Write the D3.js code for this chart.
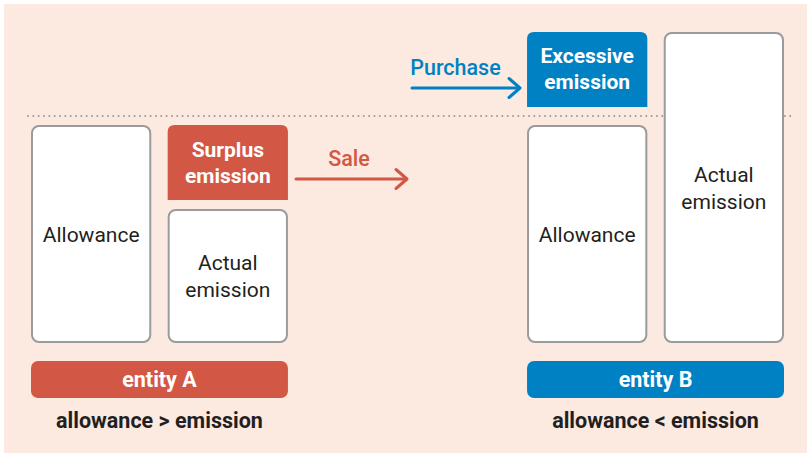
<!DOCTYPE html>
<html>
<head>
<meta charset="utf-8">
<script src="https://cdn.jsdelivr.net/npm/d3@7/dist/d3.min.js"></script>
<style>
  html, body { margin: 0; padding: 0; background: #ffffff; }
  svg { display: block; font-family: Roboto, "Noto Sans", sans-serif; }
</style>
</head>
<body>
<svg id="chart" width="807" height="453"></svg>
<script>
// ---- data ----
const entities = ["entity A", "entity B"];
const relations = ["allowance > emission", "allowance < emission"];
const allowance = [100, 100];
const actualEmission = [61, 141];
const tradeLabels = ["Sale", "Purchase"];
const diffLabels = [["Surplus", "emission"], ["Excessive", "emission"]];
const columnLabels = ["Allowance", ["Actual", "emission"]];

// ---- layout ----
const W = 807, H = 453;
const colors = { bg: "#fce9e0", red: "#d35745", blue: "#0081c4", grey: "#9b9b9d", text: "#231f20" };
const entityColor = [colors.red, colors.blue];

const svg = d3.select("#chart");
svg.append("rect").attr("x", 4).attr("y", 4).attr("width", W - 4).attr("height", H - 4).attr("fill", colors.bg);

const y = d3.scaleLinear().domain([0, 100]).range([343, 116]);
const groupX = d3.scaleBand().domain(entities).range([31, 784]).paddingInner(0.482);
// each group: two columns
const colX = d3.scaleBand().domain(["allow", "actual"]).range([0, groupX.bandwidth()]).paddingInner(0.12);

// dotted allowance line
svg.append("line")
  .attr("x1", 28).attr("x2", 791)
  .attr("y1", y(100)).attr("y2", y(100))
  .attr("stroke", colors.grey).attr("stroke-width", 2)
  .attr("stroke-dasharray", "0 5.33").attr("stroke-linecap", "round");

function outlinedBox(g, x0, w, top, bottom) {
  g.append("rect")
    .attr("x", x0 + 1).attr("y", top + 1)
    .attr("width", w - 2).attr("height", bottom - top - 2)
    .attr("rx", 7).attr("ry", 7)
    .attr("fill", "#ffffff").attr("stroke", colors.grey).attr("stroke-width", 2);
}
function topRoundedRect(x0, y0, w, h, r) {
  return `M${x0},${y0 + h}V${y0 + r}Q${x0},${y0} ${x0 + r},${y0}H${x0 + w - r}Q${x0 + w},${y0} ${x0 + w},${y0 + r}V${y0 + h}Z`;
}
function multiLine(g, cx, baselines, lines, opts) {
  const t = g.append("text").attr("text-anchor", "middle")
    .attr("font-size", opts.size).attr("font-weight", opts.weight).attr("fill", opts.fill);
  lines.forEach((l, i) => t.append("tspan").attr("x", cx).attr("y", baselines[i]).text(l));
}

const BOLD = 21.5;

entities.forEach((e, i) => {
  const g = svg.append("g");
  const gx = groupX(e);
  const bw = groupX.bandwidth();
  const ax = gx + colX("allow"), aw = colX.bandwidth();
  const ex = gx + colX("actual"), ew = colX.bandwidth();
  const base = y(0);

  // allowance column
  outlinedBox(g, ax, aw, y(allowance[i]) + 9, base);
  multiLine(g, ax + aw / 2, [242], [columnLabels[0]], { size: 21, weight: 400, fill: colors.text });

  const col = entityColor[i];
  if (actualEmission[i] < allowance[i]) {
    // surplus on top of actual emission
    const top = y(allowance[i]) + 9;
    const bnd = y(actualEmission[i]);
    g.append("path").attr("d", topRoundedRect(ex, top, ew, (bnd - 4.5) - top, 7)).attr("fill", col);
    outlinedBox(g, ex, ew, bnd + 4.5, base);
    multiLine(g, ex + ew / 2, [157, 183], diffLabels[i], { size: 21, weight: 700, fill: "#ffffff" });
    multiLine(g, ex + ew / 2, [270, 297], columnLabels[1], { size: 21, weight: 400, fill: colors.text });
  } else {
    // excess on top of allowance
    const top = y(actualEmission[i]) + 9;
    const bot = y(allowance[i]) - 9;
    g.append("path").attr("d", topRoundedRect(ax, top, aw, bot - top, 7)).attr("fill", col);
    outlinedBox(g, ex, ew, y(actualEmission[i]) + 9, base);
    multiLine(g, ax + aw / 2, [63, 89], diffLabels[i], { size: 21, weight: 700, fill: "#ffffff" });
    multiLine(g, ex + ew / 2, [182, 209], columnLabels[1], { size: 21, weight: 400, fill: colors.text });
  }

  // entity label bar
  g.append("rect").attr("x", gx).attr("y", 361).attr("width", bw).attr("height", 37)
    .attr("rx", 7).attr("fill", col);
  multiLine(g, gx + bw / 2, [387], [e], { size: BOLD, weight: 700, fill: "#ffffff" });
  multiLine(g, gx + bw / 2, [427.5], [relations[i]], { size: BOLD, weight: 700, fill: colors.text });
});

// trade arrows
const arrows = [
  { label: tradeLabels[0], color: colors.red, x1: 296, x2: 407, y: 179, tx: 349, ty: 165.5 },
  { label: tradeLabels[1], color: colors.blue, x1: 412, x2: 520, y: 88, tx: 455.5, ty: 74.5 }
];
arrows.forEach(a => {
  const g = svg.append("g").attr("stroke", a.color).attr("stroke-width", 3)
    .attr("stroke-linecap", "round").attr("stroke-linejoin", "round").attr("fill", "none");
  g.append("line").attr("x1", a.x1).attr("x2", a.x2 - 1).attr("y1", a.y).attr("y2", a.y);
  g.append("path").attr("d", `M${a.x2 - 11},${a.y - 9.5}L${a.x2},${a.y}L${a.x2 - 11},${a.y + 9.5}`);
  svg.append("text").attr("x", a.tx).attr("y", a.ty).attr("text-anchor", "middle")
    .attr("font-size", BOLD).attr("font-weight", 500).attr("fill", a.color).text(a.label);
});
</script>
</body>
</html>
